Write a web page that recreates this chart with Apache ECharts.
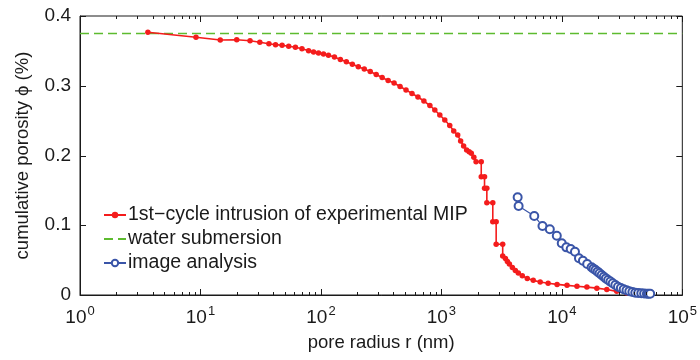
<!DOCTYPE html>
<html>
<head>
<meta charset="utf-8">
<script src="https://cdn.jsdelivr.net/npm/echarts@6/dist/echarts.min.js"></script>
<style>
  html, body { margin: 0; padding: 0; background: #fff; }
  #chart { width: 700px; height: 360px; }
</style>
</head>
<body>
<div id="chart"></div>
<script>
// 1st-cycle mercury intrusion (MIP)
const mipRadius = [
  3.66, 9.18, 14.6, 20.0, 25.8, 31.1, 37.0, 42.0, 47.6, 54.0, 61.4, 69.6, 79.0, 86.9,
  95.5, 105, 115.5, 129.5, 145, 162.6, 182.3, 204.3, 229, 256.6, 287.6, 322.3, 361.3,
  404.9, 453.8, 508.6, 570, 638.8, 715.9, 802.4, 882, 970, 1067, 1173, 1266, 1366,
  1445, 1530, 1620, 1700, 1771, 1860,
  1940, 2142, 2142, 2281, 2281, 2384, 2384, 2671, 2671, 2849, 2849, 3228, 3228,
  3400, 3531, 3667, 3882, 4111, 4352, 4694, 5163, 5787, 6610, 7692, 9128, 11040,
  13350, 16140, 19520, 23610, 28540, 34510, 41730, 48600
];
const mipPorosity = [
  0.3766, 0.3695, 0.3656, 0.3660, 0.3646, 0.3623, 0.3603, 0.3589, 0.3580, 0.3566, 0.3551, 0.3531, 0.3503, 0.3485,
  0.3470, 0.3455, 0.3437, 0.3412, 0.3376, 0.3343, 0.3308, 0.3272, 0.3240, 0.3204, 0.3161, 0.3118, 0.3075,
  0.3040, 0.2990, 0.2940, 0.2889, 0.2839, 0.2781, 0.2717, 0.2652, 0.2580, 0.2509, 0.2430, 0.2351, 0.2294,
  0.2208, 0.2136, 0.2079, 0.2054, 0.2032, 0.1975,
  0.1911, 0.1911, 0.1696, 0.1696, 0.1530, 0.1530, 0.1323, 0.1323, 0.1051, 0.1051, 0.0727, 0.0727, 0.0559,
  0.0523, 0.0480, 0.0444, 0.0394, 0.0351, 0.0315, 0.0275, 0.0238, 0.0210, 0.0186, 0.0168, 0.0152, 0.0138,
  0.0125, 0.0113, 0.0098, 0.0078, 0.0052, 0.0030, 0.0015, 0.0006
];

// water submersion level
const waterLevel = 0.375;
const waterRadius = [1, 100000];

// image analysis
const imgRadius = [
  4296, 4376, 5900, 6905, 7946, 9078, 9980, 10900, 11840, 12850, 13870, 14960, 16230,
  17650, 18300, 19030, 19800, 20550, 21400, 22300, 23200, 24200, 25300, 26450, 27800,
  29250, 30900, 32600, 34400, 36300, 38500, 40700, 43000, 45650, 48200, 50800, 52500, 54100
];
const imgPorosity = [
  0.1401, 0.1276, 0.1133, 0.0989, 0.0942, 0.0850, 0.0741, 0.0683, 0.0659, 0.0621, 0.0526, 0.0492, 0.0444,
  0.0397, 0.0378, 0.0358, 0.0335, 0.0311, 0.0287, 0.0262, 0.0238, 0.0215, 0.0192, 0.0168, 0.0143,
  0.0119, 0.0100, 0.0082, 0.0067, 0.0053, 0.0042, 0.0033, 0.0028, 0.0024, 0.0021, 0.0019, 0.0018, 0.0018
];

const xTickValues = [1, 10, 100, 1000, 10000, 100000];
const yTickValues = [0, 0.1, 0.2, 0.3, 0.4];
const X_MIN = 1, X_MAX = 100000, Y_MIN = 0, Y_MAX = 0.4;

// 2..9 between decades, for the log minor ticks
const xMinorValues = [];
for (let d = 1; d < X_MAX; d *= 10) {
  for (let k = 2; k <= 9; k++) xMinorValues.push(d * k);
}

const FONT = "'Liberation Sans', Arial, sans-serif";
const INK = "#1a1a1a";
const RED = "#f41c1c";
const GREEN = "#5dbb2f";
const BLUE = "#3a55a8";

const zip = (xs, ys) => xs.map((x, i) => [x, ys[i]]);
const crisp = (v) => Math.round(v) + 0.5;

const chart = echarts.init(document.getElementById("chart"), null, { renderer: "canvas" });

const legendNames = ["1st\u2212cycle intrusion of experimental MIP", "water submersion", "image analysis"];

chart.setOption({
  animation: false,
  backgroundColor: "#fff",
  textStyle: { fontFamily: FONT, color: INK },
  grid: { left: 80, right: 14, top: 16, bottom: 65, show: true, borderColor: INK, borderWidth: 1, backgroundColor: "transparent", containLabel: false },
  legend: {
    orient: "vertical",
    left: 98,
    top: 199,
    itemWidth: 22,
    itemHeight: 8,
    itemGap: 2,
    textStyle: { fontFamily: FONT, fontSize: 19.5, lineHeight: 22, color: INK, padding: [0, 0, 0, -3] },
    data: [
      { name: legendNames[0] },
      { name: legendNames[1], itemStyle: { color: "rgba(0,0,0,0)", borderWidth: 0 } },
      { name: legendNames[2] },
    ],
  },
  xAxis: {
    type: "log",
    logBase: 10,
    min: X_MIN,
    max: X_MAX,
    position: "bottom",
    name: "pore radius r (nm)",
    nameLocation: "middle",
    nameGap: 38,
    nameTextStyle: { fontFamily: FONT, fontSize: 18.5, color: INK },
    axisLine: { show: true, lineStyle: { color: INK, width: 1 } },
    axisTick: { show: false },
    splitLine: { show: false },
    axisLabel: {
      show: true,
      margin: 10,
      customValues: xTickValues,
      formatter: (v) => "{b|10}{s|" + Math.round(Math.log10(v)) + "}",
      rich: {
        b: { fontFamily: FONT, fontSize: 19, color: INK },
        s: { fontFamily: FONT, fontSize: 13, color: INK, padding: [0, 0, 12, 1] },
      },
    },
  },
  yAxis: {
    type: "value",
    min: Y_MIN,
    max: Y_MAX,
    interval: 0.1,
    position: "left",
    name: "cumulative porosity \u03d5 (%)",
    nameLocation: "middle",
    nameGap: 48,
    nameTextStyle: { fontFamily: FONT, fontSize: 18.5, color: INK },
    axisLine: { show: true, lineStyle: { color: INK, width: 1 } },
    axisTick: { show: false },
    axisLabel: { fontFamily: FONT, fontSize: 19, color: INK, margin: 9, customValues: yTickValues },
    splitLine: { show: false },
  },
  series: [
    {
      type: "line",
      name: legendNames[0],
      data: zip(mipRadius, mipPorosity),
      color: RED,
      symbol: "circle",
      symbolSize: 5.5,
      lineStyle: { color: RED, width: 1.6 },
      itemStyle: { color: RED },
      z: 3,
    },
    {
      type: "line",
      name: legendNames[1],
      data: zip(waterRadius, waterRadius.map(() => waterLevel)),
      color: GREEN,
      symbol: "none",
      lineStyle: { color: GREEN, width: 1.5, type: [9, 5] },
      z: 2,
    },
    {
      type: "line",
      name: legendNames[2],
      data: zip(imgRadius, imgPorosity),
      color: BLUE,
      symbol: "emptyCircle",
      symbolSize: 8,
      lineStyle: { color: BLUE, width: 1.2 },
      itemStyle: { color: BLUE, borderColor: BLUE, borderWidth: 1.3 },
      z: 4,
    },
  ],
});

// v6 drops the axis' own ticks in this setup, so the MATLAB-style inward
// ticks on all four sides are placed through the axes' own scales
const toPx = (pt) => chart.convertToPixel({ xAxisIndex: 0, yAxisIndex: 0 }, pt);
const tickEls = [];
const seg = (x1, y1, x2, y2) => tickEls.push({
  type: "line",
  silent: true,
  z: 100,
  shape: { x1, y1, x2, y2 },
  style: { stroke: INK, lineWidth: 1 },
});
const vertTicks = (v, len) => {
  const b = toPx([v, Y_MIN]);
  const t = toPx([v, Y_MAX]);
  const x = crisp(b[0]);
  seg(x, b[1], x, b[1] - len);
  seg(x, t[1], x, t[1] + len);
};
xTickValues.forEach((v) => vertTicks(v, 6));
xMinorValues.forEach((v) => vertTicks(v, 3));
yTickValues.forEach((v) => {
  const l = toPx([X_MIN, v]);
  const r = toPx([X_MAX, v]);
  const y = crisp(l[1]);
  seg(l[0], y, l[0] + 6, y);
  seg(r[0], y, r[0] - 6, y);
});
chart.setOption({ graphic: { elements: tickEls } });
</script>
</body>
</html>
